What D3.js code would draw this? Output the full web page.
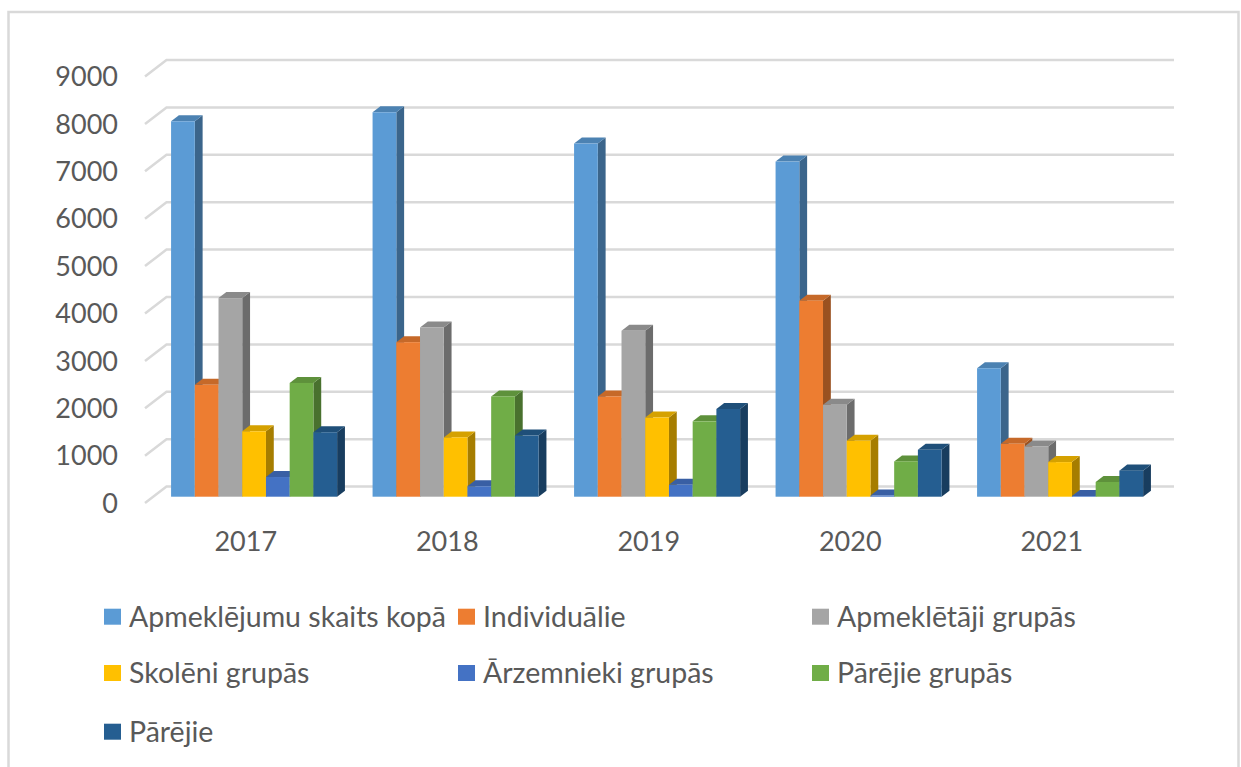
<!DOCTYPE html>
<html>
<head>
<meta charset="utf-8">
<script src="https://cdn.jsdelivr.net/npm/d3@7"></script>
<style>
  body { margin: 0; background: #fff; }
  text { font-family: Lato, "Liberation Sans", sans-serif; fill: #595959; }
</style>
</head>
<body>
<figure id="chart" style="margin:0"></figure>
<script>
// data
const years = ["2017", "2018", "2019", "2020", "2021"];
const seriesNames = ["Apmeklējumu skaits kopā", "Individuālie", "Apmeklētāji grupās",
  "Skolēni grupās", "Ārzemnieki grupās", "Pārējie grupās", "Pārējie"];
const kopa = [7920, 8110, 7450, 7070, 2710];
const individualie = [2360, 3260, 2115, 4135, 1115];
const apmekletaji = [4190, 3570, 3500, 1940, 1060];
const skoleni = [1380, 1250, 1670, 1180, 730];
const arzemnieki = [415, 220, 250, 25, 15];
const parejieGrupas = [2400, 2115, 1590, 745, 310];
const parejie = [1360, 1290, 1850, 990, 550];
const yTicks = [0, 1000, 2000, 3000, 4000, 5000, 6000, 7000, 8000, 9000];
const colors = ["#5B9BD5", "#ED7D31", "#A5A5A5", "#FFC000", "#4472C4", "#70AD47", "#255E91"];

const seriesValues = [kopa, individualie, apmekletaji, skoleni, arzemnieki, parejieGrupas, parejie];

const width = 1241, height = 767;
const svg = d3.select("figure#chart")
  .append("svg")
  .attr("width", width)
  .attr("height", height);

// outer border
svg.append("rect")
  .attr("x", 8.5).attr("y", 12)
  .attr("width", 1230).attr("height", 800)
  .attr("fill", "none")
  .attr("stroke", "#d9d9d9")
  .attr("stroke-width", 2.5);

// oblique 3D: depth 0 = back wall, depth 1 = front edge
const depthDx = -21.5, depthDy = 16.5;
const backLeft = 166.5, backRight = 1174;
const y = d3.scaleLinear().domain([0, 9000]).range([486.6, 60]);
const px = (xb, d) => xb + depthDx * d;
const py = (v, d) => y(v) + depthDy * d;

const x0 = d3.scaleBand().domain(years).range([backLeft, backRight])
  .paddingInner(0.176).paddingOuter(0.088);
const x1 = d3.scaleBand().domain(d3.range(seriesNames.length)).range([0, x0.bandwidth()]);

// back wall gridlines + side diagonals
const grid = svg.append("g");
grid.selectAll("polyline")
  .data(yTicks)
  .enter()
  .append("polyline")
  .attr("points", d => [[px(backLeft, 1), py(d, 1)], [backLeft, y(d)], [backRight, y(d)]].join(" "))
  .attr("fill", "none")
  .attr("stroke", "#d9d9d9")
  .attr("stroke-width", 2.5);

// y labels at the front edge
svg.append("g").selectAll("text")
  .data(yTicks)
  .enter()
  .append("text")
  .attr("x", 118)
  .attr("y", d => py(d, 1))
  .attr("dy", "0.36em")
  .attr("text-anchor", "end")
  .style("font-size", "27px")
  .text(d => d);

// category labels
svg.append("g").selectAll("text")
  .data(years)
  .enter()
  .append("text")
  .attr("x", d => px(x0(d) + x0.bandwidth() / 2, 1))
  .attr("y", 541.7)
  .attr("dy", "0.36em")
  .attr("text-anchor", "middle")
  .style("font-size", "27px")
  .text(d => d);

// bars
const dFront = 0.612, dBack = 0.248;
const bars = [];
years.forEach((yr, i) => {
  seriesValues.forEach((vals, s) => {
    bars.push({ year: yr, s: s, v: vals[i] });
  });
});

const barG = svg.append("g");
const bar = barG.selectAll("g")
  .data(bars)
  .enter()
  .append("g");

function face(pts) { return "M" + pts.join("L") + "Z"; }

bar.each(function(d) {
  const g = d3.select(this);
  const xl = x0(d.year) + x1(d.s);
  const xr = xl + x1.bandwidth();
  const c = d3.color(colors[d.s]);
  // side face
  g.append("path")
    .attr("d", face([[px(xr, dFront), py(0, dFront)], [px(xr, dBack), py(0, dBack)],
      [px(xr, dBack), py(d.v, dBack)], [px(xr, dFront), py(d.v, dFront)]]))
    .attr("fill", c.darker(1.2));
  // top face
  g.append("path")
    .attr("d", face([[px(xl, dFront), py(d.v, dFront)], [px(xr, dFront), py(d.v, dFront)],
      [px(xr, dBack), py(d.v, dBack)], [px(xl, dBack), py(d.v, dBack)]]))
    .attr("fill", c.darker(0.5));
  // front face
  g.append("rect")
    .attr("x", px(xl, dFront))
    .attr("y", py(d.v, dFront))
    .attr("width", x1.bandwidth())
    .attr("height", py(0, dFront) - py(d.v, dFront))
    .attr("fill", c);
});

// legend
const legendCols = [104, 458, 812];
const legendRows = [616.7, 673, 731.7];
const legend = svg.append("g").selectAll("g")
  .data(seriesNames)
  .enter()
  .append("g")
  .attr("transform", (d, i) => "translate(" + legendCols[i % 3] + "," + legendRows[Math.floor(i / 3)] + ")");
legend.append("rect")
  .attr("x", 0).attr("y", -8)
  .attr("width", 17).attr("height", 16)
  .attr("fill", (d, i) => colors[i]);
legend.append("text")
  .attr("x", 25)
  .attr("y", 0)
  .attr("dy", "0.36em")
  .style("font-size", "28.5px")
  .text(d => d);
</script>
</body>
</html>
